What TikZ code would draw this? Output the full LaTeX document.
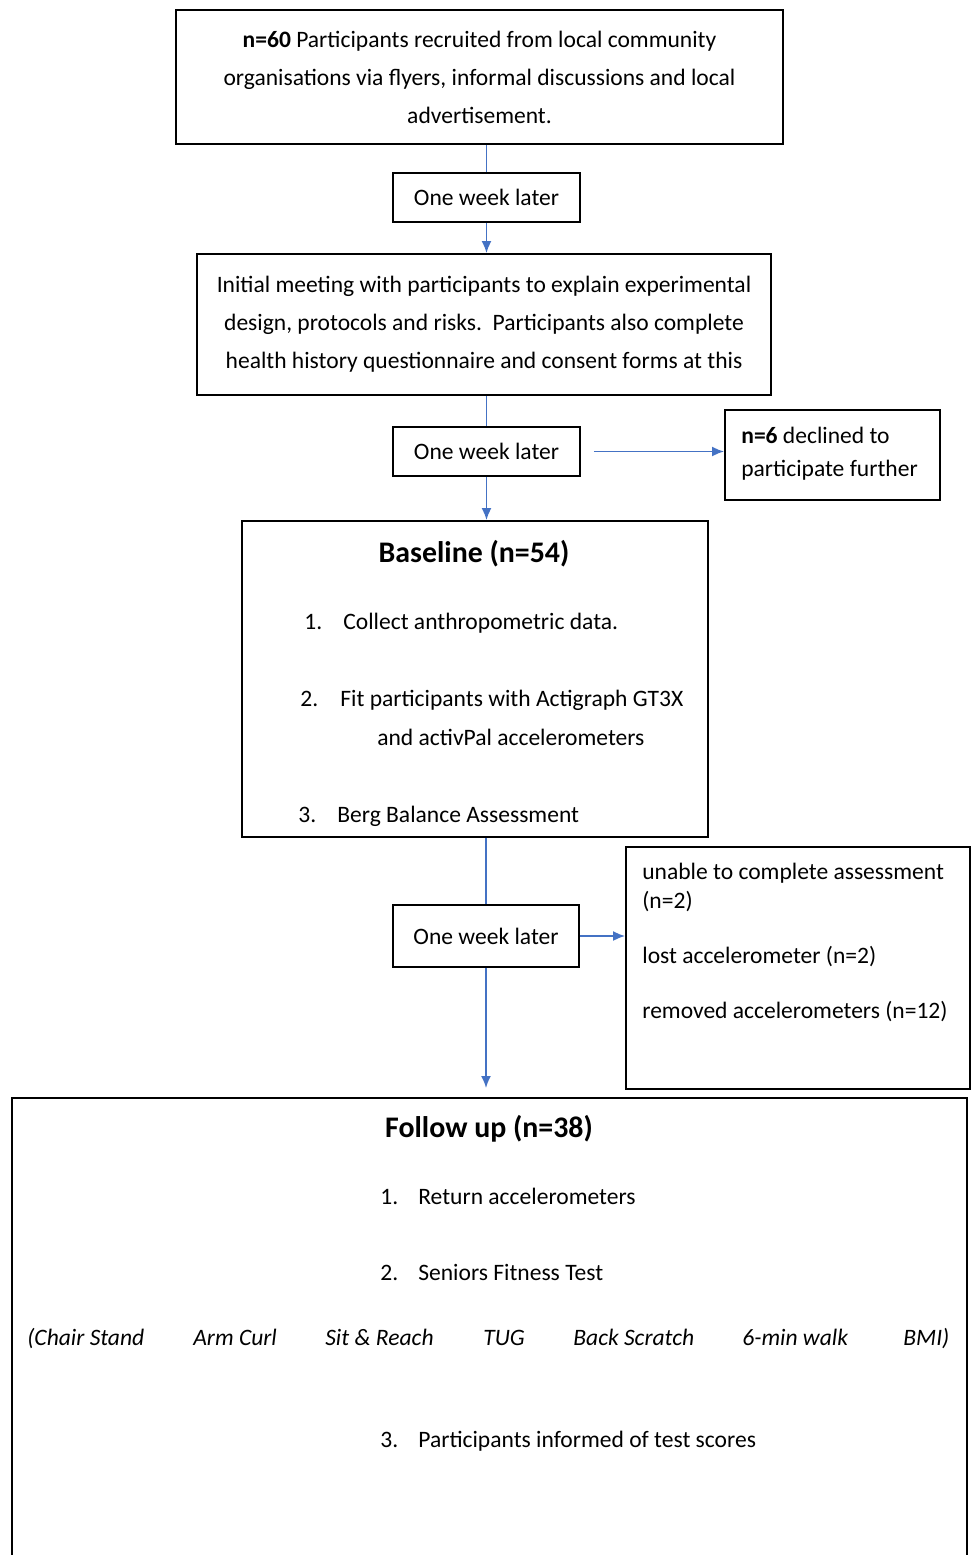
\documentclass[tikz,border=0pt]{standalone}
\usepackage{fontspec}
\setmainfont{Carlito}
\usetikzlibrary{arrows.meta}
\definecolor{linkblue}{RGB}{68,114,196}

\tikzset{
  box/.style={draw, line width=1.1pt, inner sep=0pt, align=center},
  link/.style={draw=linkblue, line width=1pt},
  linkarrow/.style={link, -{Latex[length=0.24cm, width=0.2cm]}},
  txt/.style={anchor=base west, inner sep=0pt},
  head/.style={anchor=base, inner sep=0pt, font=\fontsize{17}{20}\selectfont\bfseries},
}

\begin{document}
\begin{tikzpicture}[x=0.02cm, y=-0.02cm, font=\fontsize{13.4}{21.6}\selectfont]
  \useasboundingbox (0,0) rectangle (971,1555);
  \clip (0,0) rectangle (971,1555);

  % main column
  \node[box, minimum width=12.14cm, minimum height=2.68cm] (recruit) at (479.5,77)
    {\textbf{n=60} Participants recruited from local community\\
     organisations via flyers, informal discussions and local\\
     advertisement.};
  \node[box, minimum width=3.74cm, minimum height=0.98cm] (week1) at (486.5,197.5) {One week later};
  \node[box, minimum width=11.48cm, minimum height=2.82cm] (meeting) at (484,324.5)
    {Initial meeting with participants to explain experimental\\
     design, protocols and risks.\ \ Participants also complete\\
     health history questionnaire and consent forms at this};
  \node[box, minimum width=3.74cm, minimum height=0.98cm] (week2) at (486.5,451.5) {One week later};
  \node[box, minimum width=9.32cm, minimum height=6.32cm] (baseline) at (475,679) {};
  \node[box, minimum width=3.72cm, minimum height=1.24cm] (week3) at (486,936) {One week later};
  \node[box, minimum width=19.1cm, minimum height=10.04cm] (followup) at (489.5,1349) {};
  \coordinate (stop) at (486,1088);

  % side boxes
  \node[box, minimum width=4.3cm, minimum height=1.8cm] (declined) at (832.5,455) {};
  \node[box, minimum width=6.88cm, minimum height=4.84cm] (dropout) at (798,968) {};

  \node[txt] (declined1) at (741,443) {\textbf{n=6} declined to};
  \node[txt] (declined2) at (741,476) {participate further};

  \node[txt] (dropout1) at (642,879) {unable to complete assessment};
  \node[txt] (dropout2) at (642,908) {(n=2)};
  \node[txt] (dropout3) at (642,963) {lost accelerometer (n=2)};
  \node[txt] (dropout4) at (642,1018) {removed accelerometers (n=12)};

  % baseline list
  \node[head] (baselinehead) at (474,562) {Baseline (n=54)};
  \node[txt] (bnum1) at (304,629) {1.};
  \node[txt] (bitem1) at (343,629) {Collect anthropometric data.};
  \node[txt] (bnum2) at (300,706) {2.};
  \node[txt] (bitem2) at (340,706) {Fit participants with Actigraph GT3X};
  \node[txt] (bitem2b) at (377,745) {and activPal accelerometers};
  \node[txt] (bnum3) at (298,822) {3.};
  \node[txt] (bitem3) at (337,822) {Berg Balance Assessment};

  % follow up list
  \node[head] (followhead) at (489,1137) {Follow up (n=38)};
  \node[txt] (fnum1) at (380,1204) {1.};
  \node[txt] (fitem1) at (418,1204) {Return accelerometers};
  \node[txt] (fnum2) at (380,1280) {2.};
  \node[txt] (fitem2) at (418,1280) {Seniors Fitness Test};
  \foreach \x/\t [count=\i] in {27/{(Chair Stand}, 193/{Arm Curl}, 325/{Sit \& Reach},
      483/{TUG}, 573/{Back Scratch}, 742/{6-min walk}, 903/{BMI)}} {
    \node[txt] (test\i) at (\x,1345) {\itshape\t};
  }
  \node[txt] (fnum3) at (380,1447) {3.};
  \node[txt] (fitem3) at (418,1447) {Participants informed of test scores};

  % connectors
  \draw[link] (week1.north |- recruit.south) -- (week1.north);
  \draw[linkarrow] (week1.south) -- (week1.south |- meeting.north);
  \draw[link] (week2.north |- meeting.south) -- (week2.north);
  \draw[linkarrow, shorten <=0.26cm] (week2.east) -- (declined.west |- week2.east);
  \draw[linkarrow] (week2.south) -- (week2.south |- baseline.north);
  \draw[link] (week3.north |- baseline.south) -- (week3.north);
  \draw[linkarrow] (week3.east) -- (dropout.west |- week3.east);
  \draw[linkarrow] (week3.south) -- (stop);
\end{tikzpicture}
\end{document}
